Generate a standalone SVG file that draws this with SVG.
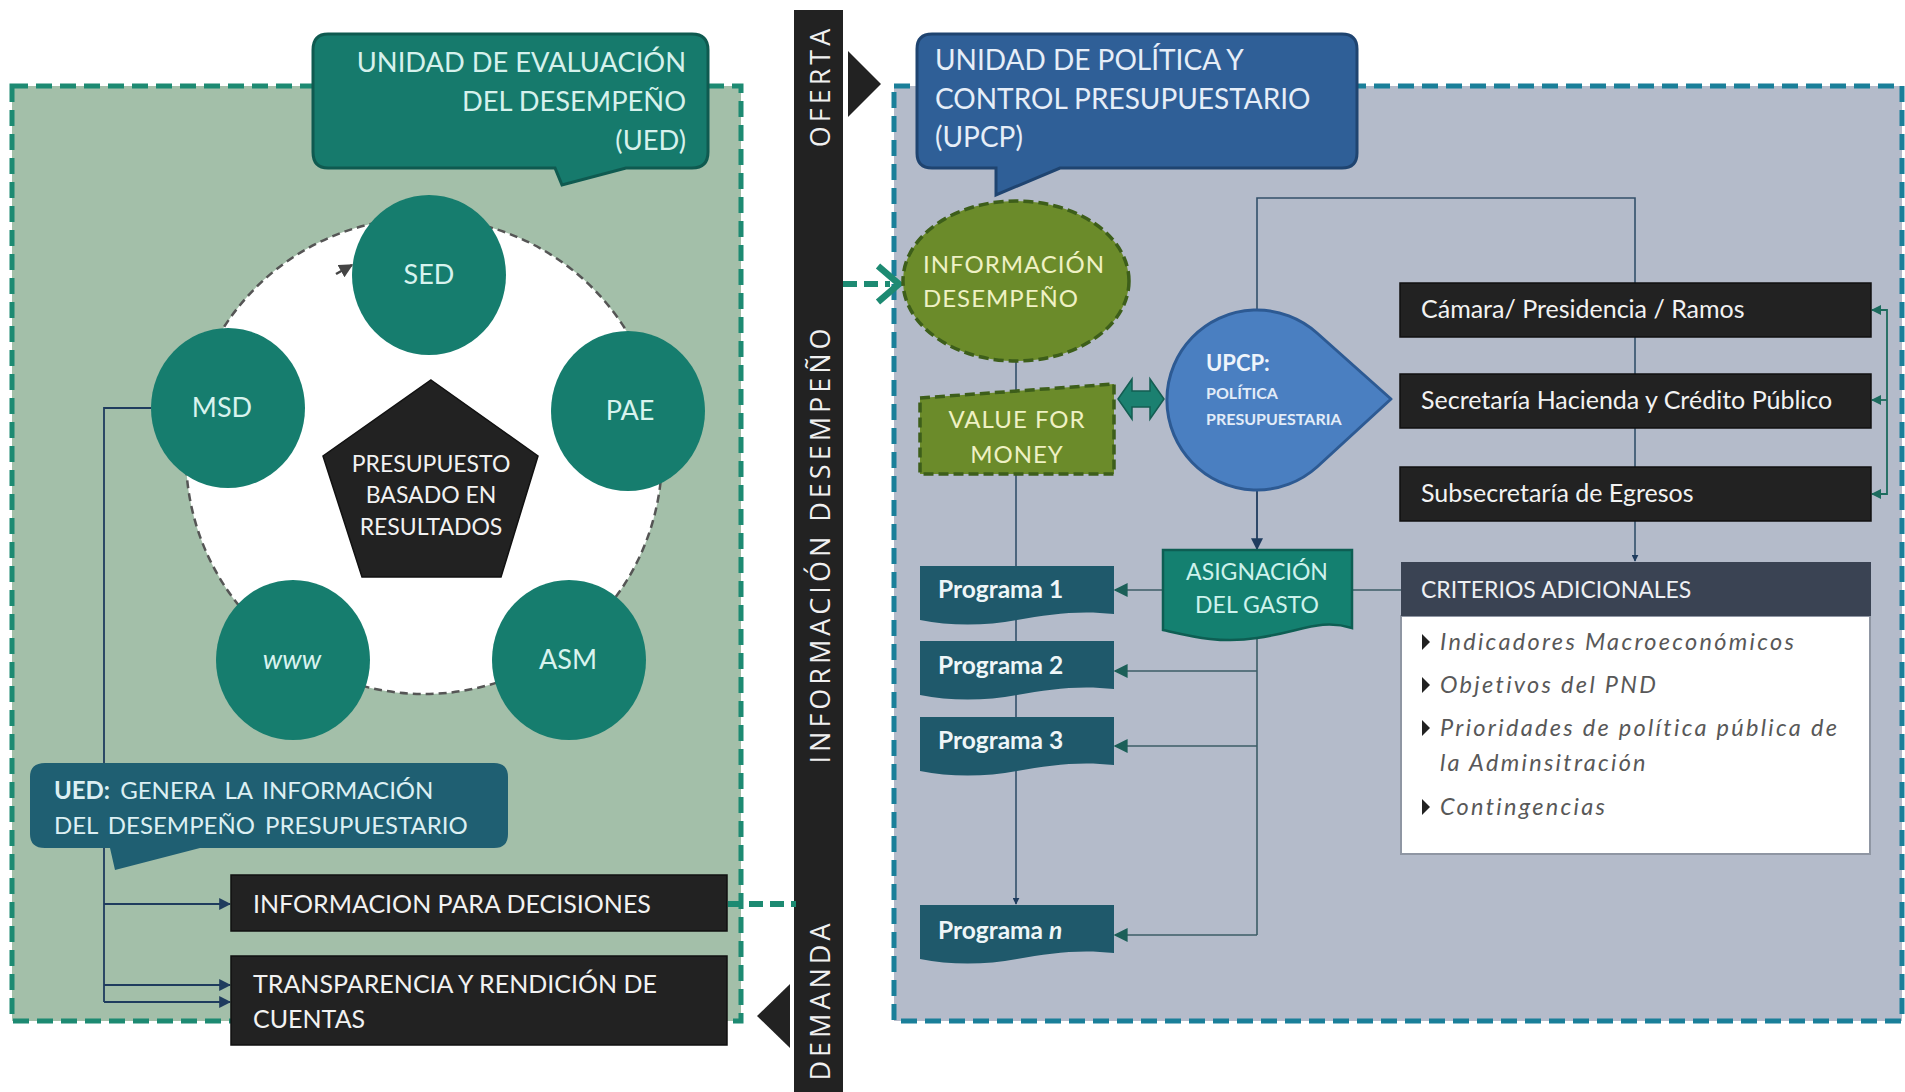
<svg xmlns="http://www.w3.org/2000/svg" width="1905" height="1092" viewBox="0 0 1905 1092">
<defs>
<style>
.t{font-family:Lato,"Open Sans","Liberation Sans",sans-serif;}
.circ{fill:#167d6e;}
.clab{font-family:Lato,"Liberation Sans",sans-serif;font-size:27px;fill:#d8f3ee;text-anchor:middle;}
.blk{fill:#222222;stroke:#111;stroke-width:1.5;}
.btxt{font-family:Lato,"Liberation Sans",sans-serif;font-size:25px;fill:#f2f2f2;}
.prog{fill:#1f596b;}
.ptxt{font-family:Lato,"Liberation Sans",sans-serif;font-size:24.5px;font-weight:bold;fill:#eef6f8;}
.bar{font-family:"Open Sans","Liberation Sans",sans-serif;font-size:27px;fill:#f0f0f0;letter-spacing:4px;text-anchor:middle;}
.ln{fill:none;stroke:#33506a;stroke-width:1.6;}
.lnL{fill:none;stroke:#1f3c5e;stroke-width:1.8;}
.lnT{fill:none;stroke:#3c5d66;stroke-width:1.6;}
.item{font-family:Lato,"Liberation Sans",sans-serif;font-size:23.5px;font-style:italic;fill:#585858;letter-spacing:2.3px;}
</style>
<marker id="aNavy" viewBox="0 0 10 10" refX="9" refY="5" markerWidth="7" markerHeight="7" markerUnits="userSpaceOnUse" orient="auto"><path d="M0,0 L10,5 L0,10 Z" fill="#1f3c5e"/></marker>
<marker id="aNavyL" viewBox="0 0 10 10" refX="9" refY="5" markerWidth="12" markerHeight="12" markerUnits="userSpaceOnUse" orient="auto"><path d="M0,0 L10,5 L0,10 Z" fill="#1f3c5e"/></marker>
<marker id="aTeal" viewBox="0 0 10 10" refX="9" refY="5" markerWidth="14" markerHeight="14" markerUnits="userSpaceOnUse" orient="auto"><path d="M0,0 L10,5 L0,10 Z" fill="#1c5f58"/></marker>
<marker id="aTealS" viewBox="0 0 10 10" refX="9" refY="5" markerWidth="10" markerHeight="10" markerUnits="userSpaceOnUse" orient="auto"><path d="M0,0 L10,5 L0,10 Z" fill="#1c6b5e"/></marker>
<marker id="aGray" viewBox="0 0 10 10" refX="9" refY="5" markerWidth="14" markerHeight="14" markerUnits="userSpaceOnUse" orient="auto"><path d="M0,0 L10,5 L0,10 Z" fill="#444"/></marker>
</defs>

<rect width="1905" height="1092" fill="#ffffff"/>

<!-- panels -->
<g id="panel-ued">
<rect x="12" y="86" width="729" height="935" fill="#a3bfa9" stroke="#1d8a72" stroke-width="5" stroke-dasharray="16 8"/>
</g>
<g id="panel-upcp">
<rect x="894" y="86" width="1008" height="935" fill="#b4bbca" stroke="#1a7f99" stroke-width="5" stroke-dasharray="16 8"/>
</g>

<!-- ring -->
<g id="ring">
<circle cx="424" cy="456" r="238" fill="#ffffff" stroke="#555" stroke-width="2.5" stroke-dasharray="8 5"/>
<path d="M336,274 L352,265" stroke="#444" stroke-width="2.5" marker-end="url(#aGray)"/>
</g>

<!-- middle bar -->
<g id="bar">
<rect x="794" y="10" width="49" height="1082" fill="#222222"/>
<text class="bar" transform="translate(830,86) rotate(-90)">OFERTA</text>
<text class="bar" transform="translate(830,544) rotate(-90)">INFORMACIÓN DESEMPEÑO</text>
<text class="bar" transform="translate(830,1000) rotate(-90)">DEMANDA</text>
<polygon points="848,51 881,84 848,117" fill="#222"/>
<polygon points="790,984 757,1016 790,1048" fill="#222"/>
</g>

<!-- connectors -->
<g id="connectors">
<polyline class="lnL" points="151,408 104,408 104,1002"/>
<line class="lnL" x1="104" y1="904" x2="230" y2="904" marker-end="url(#aNavyL)"/>
<line class="lnL" x1="104" y1="985" x2="230" y2="985" marker-end="url(#aNavyL)"/>
<line class="lnL" x1="104" y1="1002" x2="230" y2="1002" marker-end="url(#aNavyL)"/>
<line x1="728" y1="904" x2="796" y2="904" stroke="#1d8a72" stroke-width="6" stroke-dasharray="14 7"/>
<line x1="843" y1="284" x2="890" y2="284" stroke="#1d8a72" stroke-width="6" stroke-dasharray="14 7"/>
<polyline points="878,266 899,284 878,302" fill="none" stroke="#1d8a72" stroke-width="6.5" stroke-linejoin="miter"/>
<line class="ln" x1="1016" y1="361" x2="1016" y2="904" stroke="#2f4a78" marker-end="url(#aNavy)"/>
<polyline class="ln" points="1257,310 1257,198 1635,198 1635,561" marker-end="url(#aNavy)"/>
<line class="lnL" x1="1257" y1="490" x2="1257" y2="549" marker-end="url(#aNavyL)"/>
<line class="lnT" x1="1352" y1="590" x2="1401" y2="590"/>
<line class="lnT" x1="1163" y1="590" x2="1115" y2="590" marker-end="url(#aTeal)"/>
<polyline class="lnT" points="1257,636 1257,935"/>
<line class="lnT" x1="1257" y1="671" x2="1115" y2="671" marker-end="url(#aTeal)"/>
<line class="lnT" x1="1257" y1="746" x2="1115" y2="746" marker-end="url(#aTeal)"/>
<line class="lnT" x1="1257" y1="935" x2="1115" y2="935" marker-end="url(#aTeal)"/>
<polyline points="1872,310 1887,310 1887,494 1872,494" fill="none" stroke="#1c6b5e" stroke-width="1.8"/>
<line x1="1887" y1="310" x2="1872" y2="310" stroke="#1c6b5e" stroke-width="1.8" marker-end="url(#aTealS)"/>
<line x1="1887" y1="400" x2="1872" y2="400" stroke="#1c6b5e" stroke-width="1.8" marker-end="url(#aTealS)"/>
<line x1="1887" y1="494" x2="1872" y2="494" stroke="#1c6b5e" stroke-width="1.8" marker-end="url(#aTealS)"/>
</g>

<!-- UED callout -->
<g id="ued-title">
<path d="M328,34 H692 Q708,34 708,50 V152 Q708,168 692,168 H626 L562,185 L555,168 H328 Q313,168 313,152 V50 Q313,34 328,34 Z" fill="#167a6c" stroke="#0f5a50" stroke-width="3"/>
<text class="t" x="686" y="72" font-size="27.3" fill="#d6f1ec" text-anchor="end">UNIDAD DE EVALUACIÓN</text>
<text class="t" x="686" y="111" font-size="27.3" fill="#d6f1ec" text-anchor="end">DEL DESEMPEÑO</text>
<text class="t" x="686" y="150" font-size="27.3" fill="#d6f1ec" text-anchor="end">(UED)</text>
</g>

<!-- cycle nodes -->
<g id="node-sed"><ellipse class="circ" cx="429" cy="275" rx="77" ry="80"/><text class="clab" x="429" y="284">SED</text></g>
<g id="node-msd"><ellipse class="circ" cx="228" cy="408" rx="77" ry="80"/><text class="clab" x="222" y="417">MSD</text></g>
<g id="node-pae"><ellipse class="circ" cx="628" cy="411" rx="77" ry="80"/><text class="clab" x="630" y="420">PAE</text></g>
<g id="node-www"><ellipse class="circ" cx="293" cy="660" rx="77" ry="80"/><text class="clab" x="292" y="669" font-style="italic">www</text></g>
<g id="node-asm"><ellipse class="circ" cx="569" cy="660" rx="77" ry="80"/><text class="clab" x="568" y="669">ASM</text></g>

<g id="node-pbr">
<polygon points="431,380 538,456 501,577 362,577 323,456" fill="#222222" stroke="#111" stroke-width="1.5"/>
<text class="t" x="431" y="472" font-size="23" fill="#f2f2f2" text-anchor="middle">PRESUPUESTO</text>
<text class="t" x="431" y="503" font-size="23" fill="#f2f2f2" text-anchor="middle">BASADO EN</text>
<text class="t" x="431" y="535" font-size="23" fill="#f2f2f2" text-anchor="middle">RESULTADOS</text>
</g>

<!-- UED info callout -->
<g id="ued-info">
<path d="M45,763 H494 Q508,763 508,777 V834 Q508,848 494,848 H200 L115,870 L110,848 H45 Q30,848 30,834 V777 Q30,763 45,763 Z" fill="#1f5f72"/>
<text class="t" x="54" y="799" font-size="24" fill="#dceff3" word-spacing="4"><tspan font-weight="bold">UED:</tspan> GENERA  LA INFORMACIÓN</text>
<text class="t" x="54" y="834" font-size="24" fill="#dceff3" word-spacing="4">DEL DESEMPEÑO  PRESUPUESTARIO</text>
</g>

<g id="node-decisiones">
<rect class="blk" x="231" y="875" width="496" height="56"/>
<text class="btxt" x="253" y="913">INFORMACION PARA DECISIONES</text>
</g>
<g id="node-transparencia">
<rect class="blk" x="231" y="956" width="496" height="89"/>
<text class="btxt" x="253" y="993">TRANSPARENCIA Y RENDICIÓN DE</text>
<text class="btxt" x="253" y="1028">CUENTAS</text>
</g>

<!-- UPCP callout -->
<g id="upcp-title">
<path d="M932,34 H1342 Q1357,34 1357,49 V153 Q1357,168 1342,168 H1060 L996,195 L996,168 H932 Q917,168 917,153 V49 Q917,34 932,34 Z" fill="#2f5f97" stroke="#1f4470" stroke-width="3"/>
<text class="t" x="935" y="70" font-size="28" fill="#e6eef8">UNIDAD DE POLÍTICA Y</text>
<text class="t" x="935" y="109" font-size="28" fill="#e6eef8">CONTROL PRESUPUESTARIO</text>
<text class="t" x="935" y="147" font-size="28" fill="#e6eef8">(UPCP)</text>
</g>

<g id="node-infodes">
<ellipse cx="1016" cy="281" rx="113" ry="80" fill="#6b8b2a" stroke="#3d5e1a" stroke-width="3.5" stroke-dasharray="10 5"/>
<text class="t" x="923" y="273" font-size="24" fill="#eff1c4" letter-spacing="1">INFORMACIÓN</text>
<text class="t" x="923" y="307" font-size="24" fill="#eff1c4" letter-spacing="1">DESEMPEÑO</text>
</g>

<g id="node-vfm">
<polygon points="920,398 1114,384 1114,474 920,474" fill="#6b8b2a" stroke="#3d5e1a" stroke-width="3.5" stroke-dasharray="10 5"/>
<text class="t" x="1017" y="428" font-size="24" fill="#eff1c4" text-anchor="middle" letter-spacing="1">VALUE FOR</text>
<text class="t" x="1017" y="463" font-size="24" fill="#eff1c4" text-anchor="middle" letter-spacing="1">MONEY</text>
</g>

<g id="dbl-arrow">
<polygon points="1118,399 1132,379 1132,391 1150,391 1150,379 1164,399 1150,419 1150,407 1132,407 1132,419" fill="#1b8070" stroke="#135d52" stroke-width="1.5"/>
</g>

<g id="node-upcp">
<path d="M1391,399 L1317,467 A90,90 0 1 1 1317,333 Z" fill="#4a7fc1" stroke="#2d5a93" stroke-width="3" stroke-linejoin="round"/>
<text class="t" x="1206" y="371" font-size="22" font-weight="bold" fill="#eef4fb">UPCP:</text>
<text class="t" x="1206" y="399" font-size="16" font-weight="bold" fill="#e2ecf8">POLÍTICA</text>
<text class="t" x="1206" y="425" font-size="16" font-weight="bold" fill="#e2ecf8">PRESUPUESTARIA</text>
</g>

<g id="node-camara"><rect class="blk" x="1400" y="283" width="471" height="54"/><text class="btxt" x="1421" y="318" font-size="24">Cámara/ Presidencia / Ramos</text></g>
<g id="node-shcp"><rect class="blk" x="1400" y="374" width="471" height="54"/><text class="btxt" x="1421" y="409" font-size="24">Secretaría Hacienda y Crédito Público</text></g>
<g id="node-egresos"><rect class="blk" x="1400" y="467" width="471" height="54"/><text class="btxt" x="1421" y="502" font-size="24">Subsecretaría de Egresos</text></g>

<g id="node-asignacion">
<path d="M1163,550 H1352 V628 C1320,618 1300,632 1257,638 C1220,644 1190,636 1163,630 Z" fill="#148070" stroke="#0e5e53" stroke-width="2.5"/>
<text class="t" x="1257" y="580" font-size="23" fill="#cdf2ec" text-anchor="middle">ASIGNACIÓN</text>
<text class="t" x="1257" y="613" font-size="23" fill="#cdf2ec" text-anchor="middle">DEL GASTO</text>
</g>

<g id="node-criterios">
<rect x="1401" y="616" width="469" height="238" fill="#ffffff" stroke="#8f96a3" stroke-width="2"/>
<rect x="1401" y="562" width="470" height="54" fill="#3a4353"/>
<text class="t" x="1421" y="598" font-size="23" fill="#eef0f4">CRITERIOS ADICIONALES</text>
<g fill="#222">
<polygon points="1422,634 1430,642 1422,650"/>
<polygon points="1422,677 1430,685 1422,693"/>
<polygon points="1422,720 1430,728 1422,736"/>
<polygon points="1422,799 1430,807 1422,815"/>
</g>
<text class="item" x="1440" y="650">Indicadores Macroeconómicos</text>
<text class="item" x="1440" y="693">Objetivos del PND</text>
<text class="item" x="1440" y="736">Prioridades de política pública de</text>
<text class="item" x="1440" y="771">la Adminsitración</text>
<text class="item" x="1440" y="815">Contingencias</text>
</g>

<g id="node-prog1"><path class="prog" d="M920,566 H1114 V614 C1080,610 1050,614 1017,620 C985,626 950,626 920,620 Z"/><text class="ptxt" x="938" y="598">Programa 1</text></g>
<g id="node-prog2"><path class="prog" d="M920,641 H1114 V689 C1080,685 1050,689 1017,695 C985,701 950,701 920,695 Z"/><text class="ptxt" x="938" y="674">Programa 2</text></g>
<g id="node-prog3"><path class="prog" d="M920,717 H1114 V765 C1080,761 1050,765 1017,771 C985,777 950,777 920,771 Z"/><text class="ptxt" x="938" y="749">Programa 3</text></g>
<g id="node-progn"><path class="prog" d="M920,905 H1114 V953 C1080,949 1050,953 1017,959 C985,965 950,965 920,959 Z"/><text class="ptxt" x="938" y="939">Programa <tspan font-style="italic">n</tspan></text></g>
</svg>
